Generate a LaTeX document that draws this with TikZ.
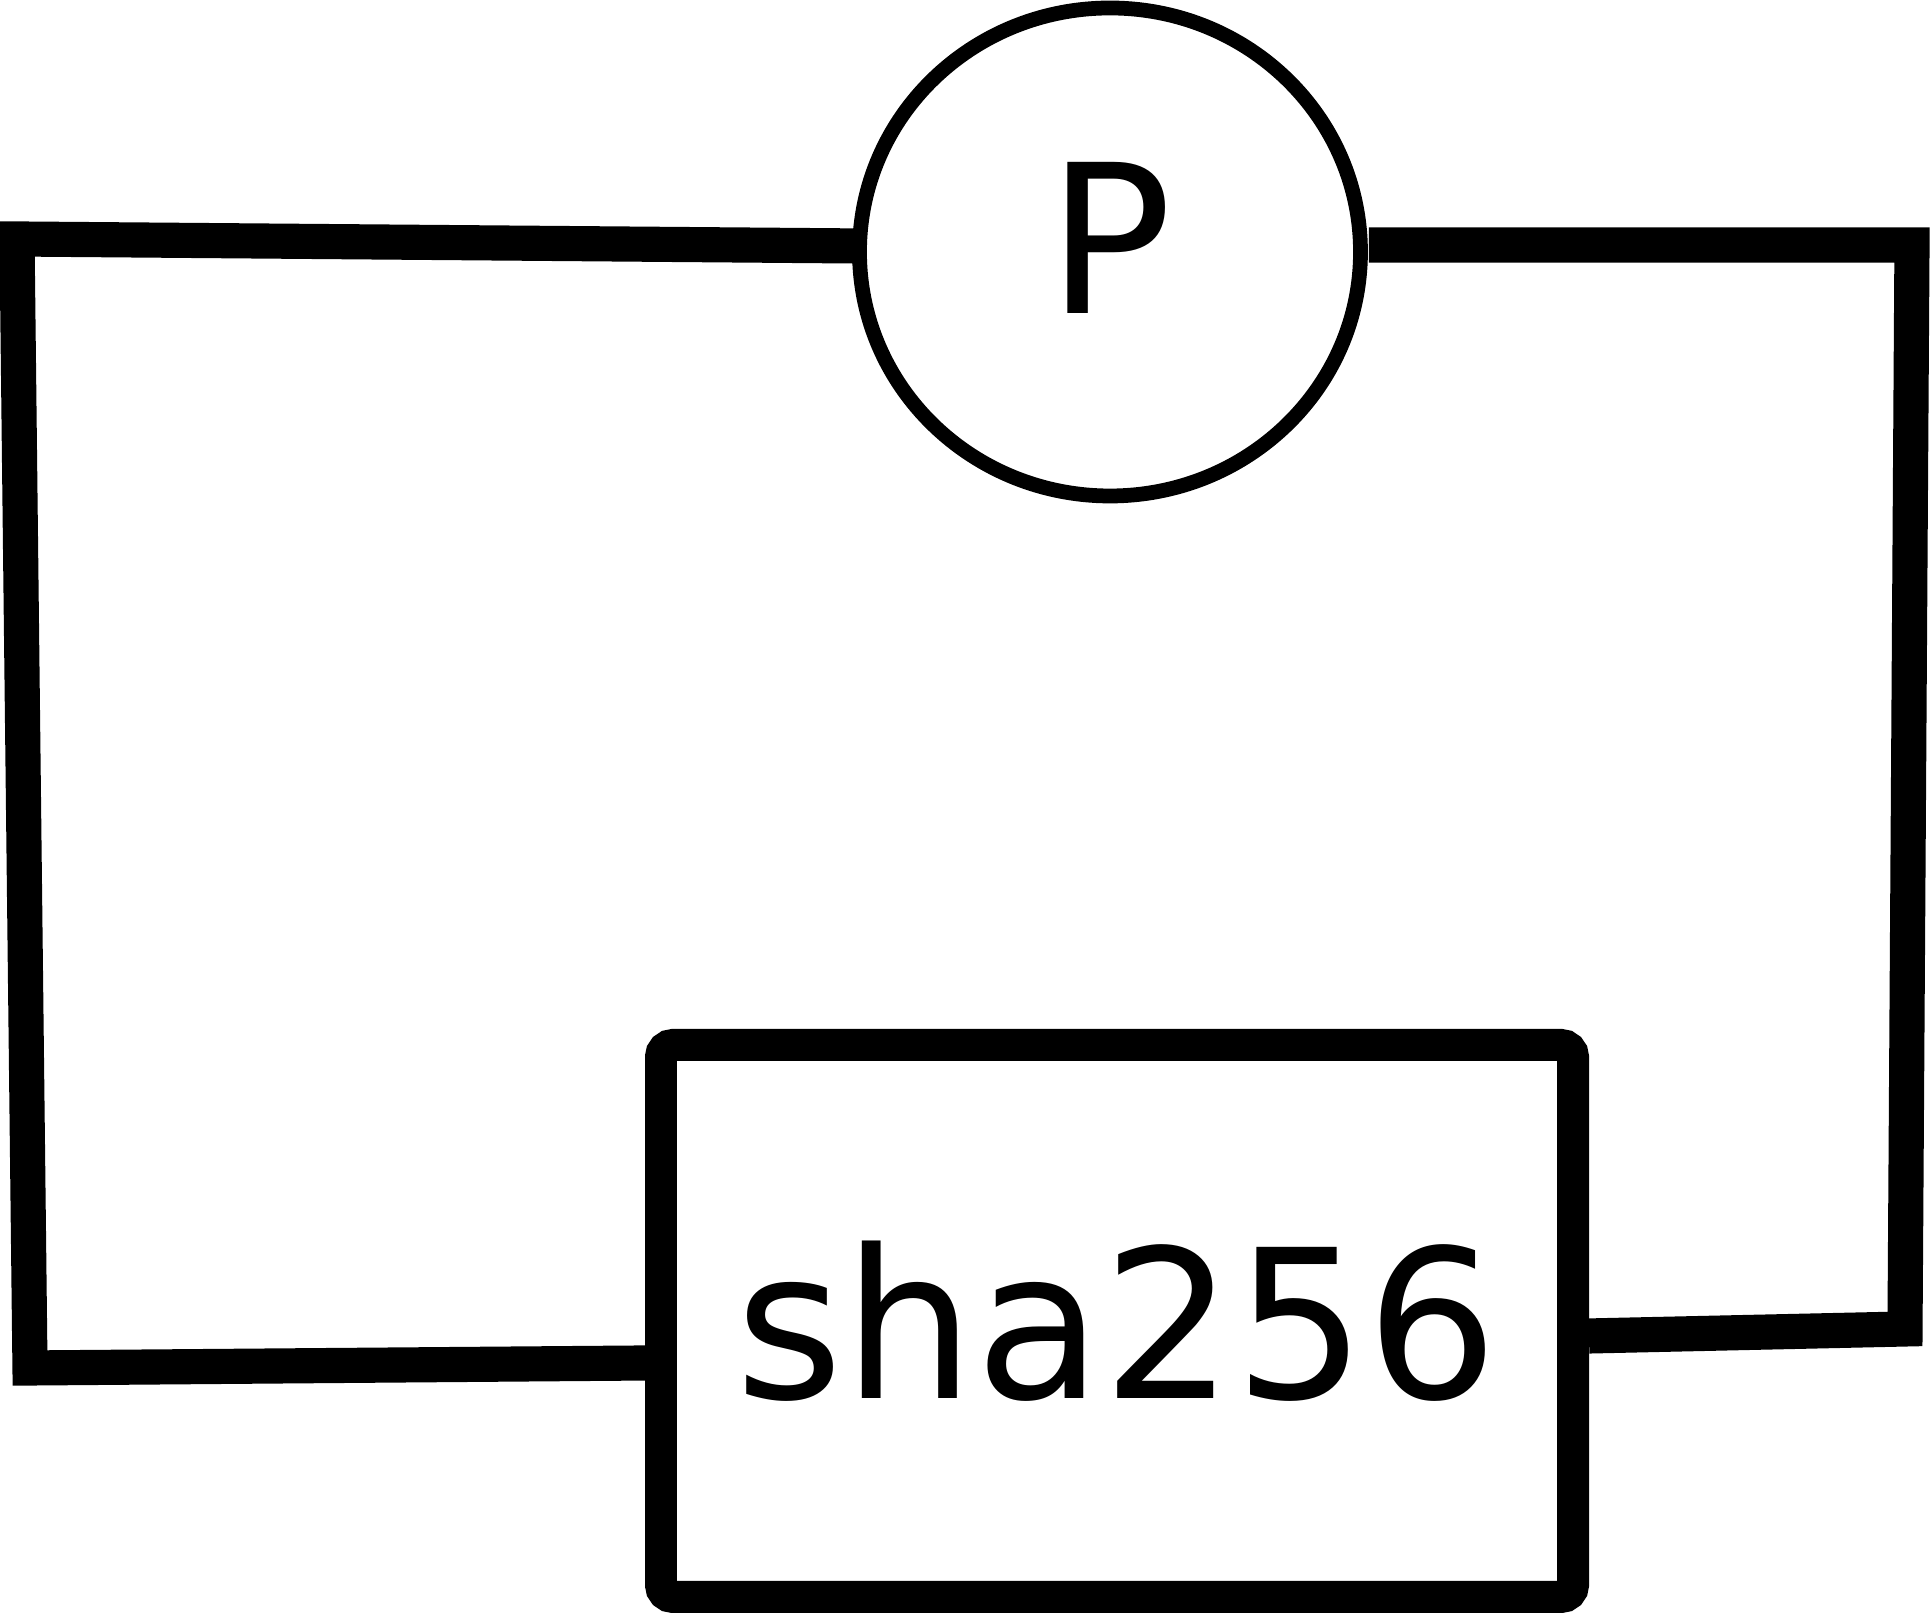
\documentclass[tikz,border=0pt]{standalone}
\usepackage{fontspec}
\setmainfont{DejaVu Sans}
\usepackage{tikz}
\usetikzlibrary{shapes.geometric,calc}
\newcommand{\diagfont}{\fontsize{59}{71}\selectfont}

\begin{document}
\begin{tikzpicture}[
    perm/.style={ellipse, draw, line width=4.2pt, minimum width=5.01cm, minimum height=4.88cm, inner sep=0pt, text depth=2.8mm, font=\diagfont},
    hashbox/.style={rectangle, draw, line width=9.1pt, rounded corners=1.2mm, minimum width=9.12cm, minimum height=5.52cm, inner sep=0pt, font=\diagfont},
    wire/.style={line width=10pt}
]
\useasboundingbox (0,0) rectangle (19.3,16.14);
\node[perm]    (perm) at (11.10,13.62) {P};
\node[hashbox] (sha)  at (11.17,2.93)  {sha256};

\coordinate (tl) at (0.17,13.75);
\coordinate (bl) at (0.30,2.46);
\coordinate (tr) at (19.12,13.69);
\coordinate (br) at (19.05,2.85);

\draw[wire] ([shift={(0.6mm,0.6mm)}]perm.west) -- (tl) -- (bl) -- ([yshift=-4.2mm]sha.west);
\draw[wire] ([shift={(0.1mm,0.7mm)}]perm.east) -- (tr) -- (br) -- ([yshift=-1.5mm]sha.east);
\end{tikzpicture}
\end{document}
